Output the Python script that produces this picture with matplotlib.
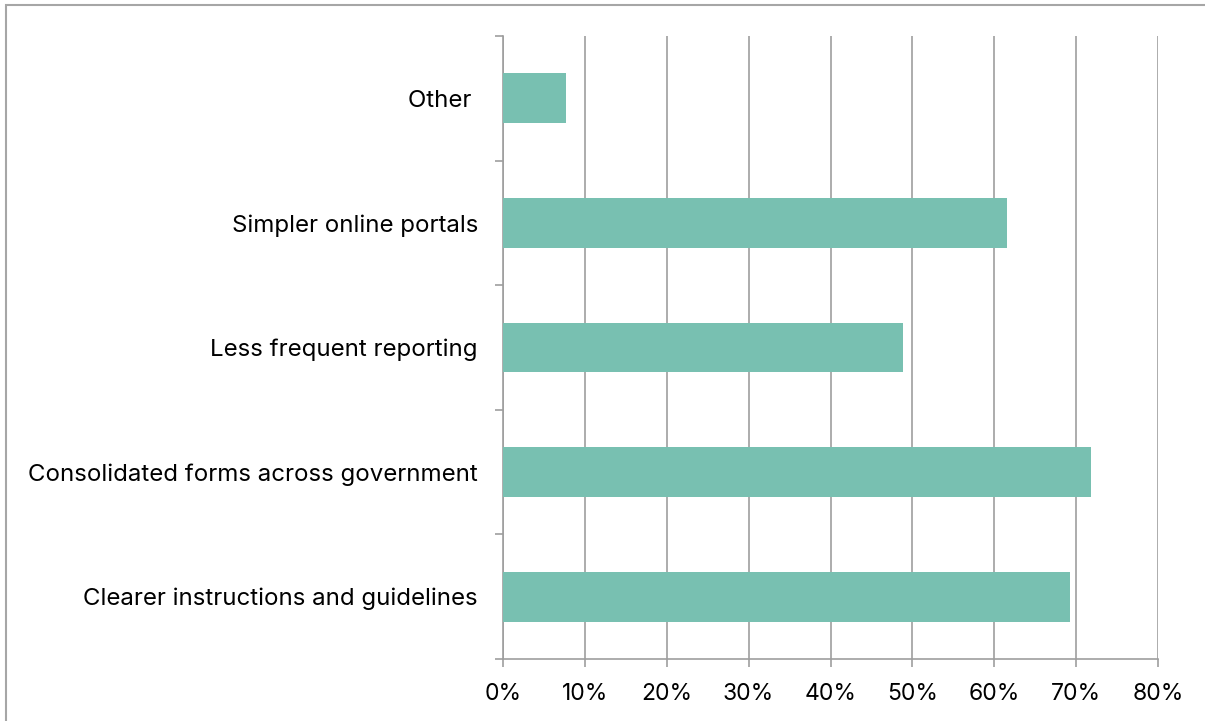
import numpy as np
import matplotlib.pyplot as plt
from matplotlib.patches import Rectangle
from matplotlib.ticker import FixedLocator, PercentFormatter

# data, bottom to top
categories = [
    "Clearer instructions and guidelines",
    "Consolidated forms across government",
    "Less frequent reporting",
    "Simpler online portals",
    "Other ",
]
shares = [0.692, 0.718, 0.488, 0.615, 0.077]
x_ticks = [0.0, 0.1, 0.2, 0.3, 0.4, 0.5, 0.6, 0.7, 0.8]

BAR = "#78C0B1"
GRID = "#9E9E9E"

plt.rcParams["font.family"] = ["Inter", "DejaVu Sans"]

fig = plt.figure(figsize=(12.05, 7.21), dpi=100)
ax = fig.add_axes([503 / 1205, 62 / 721, 655 / 1205, 623 / 721])

y = np.arange(len(categories))
ax.barh(y, shares, height=0.4, color=BAR, zorder=3)

ax.set_xlim(0, 0.8)
ax.set_ylim(-0.5, len(categories) - 0.5)
ax.xaxis.set_major_locator(FixedLocator(x_ticks))
ax.xaxis.set_major_formatter(PercentFormatter(1.0, decimals=0))
ax.grid(axis="x", color=GRID, linewidth=1.2, zorder=0)

# category labels sit between boundary ticks
ax.set_yticks(np.arange(len(categories) + 1) - 0.5)
ax.set_yticklabels([])
ax.set_yticks(y, minor=True)
ax.set_yticklabels(categories, minor=True)
ax.tick_params(axis="y", which="major", length=6, color=GRID, width=1.2)
ax.tick_params(axis="y", which="minor", length=0, pad=18, labelsize=17.3)
ax.tick_params(axis="x", length=6, color=GRID, width=1.2, pad=11, labelsize=16.5)

for side in ["top", "right"]:
    ax.spines[side].set_visible(False)
for side in ["left", "bottom"]:
    ax.spines[side].set_color(GRID)
    ax.spines[side].set_linewidth(1.2)

# chart-area border, only top and left edges are inside the picture
fig.patches.append(Rectangle((6 / 1205, -0.1), 1.2, 1.1 - 5 / 721,
                             transform=fig.transFigure, fill=False,
                             edgecolor="#A6A6A6", linewidth=1.5))

fig.savefig("out.png", dpi=100)
